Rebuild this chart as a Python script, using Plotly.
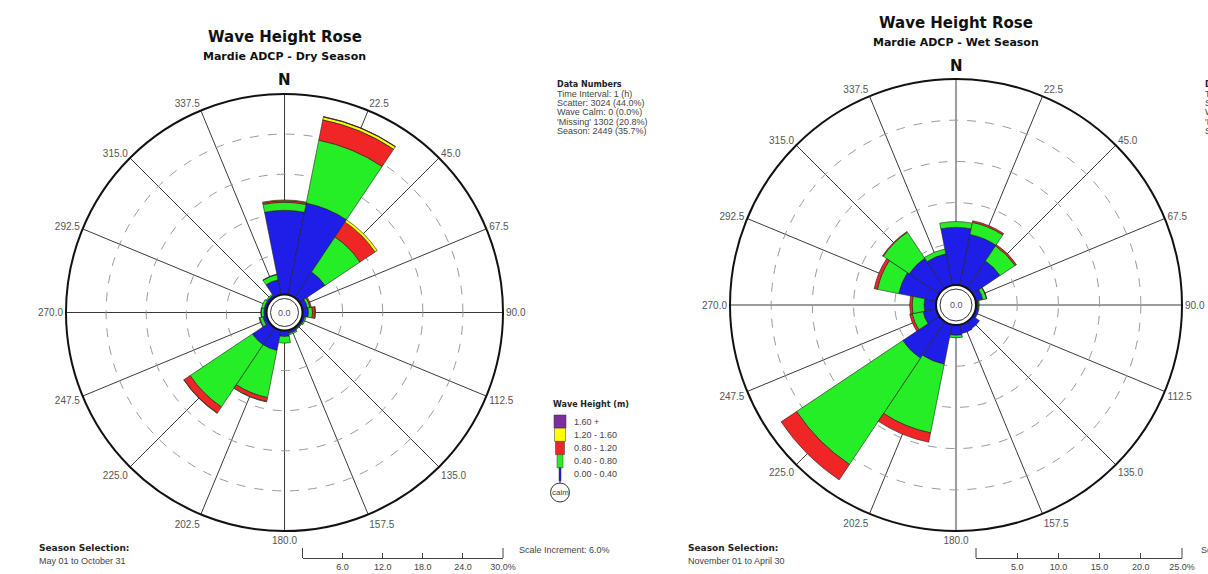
import plotly.graph_objects as go

# ---------------- data ----------------
directions = [0, 22.5, 45, 67.5, 90, 112.5, 135, 157.5, 180, 202.5, 225, 247.5, 270, 292.5, 315, 337.5]
angle_labels = ["", "22.5", "45.0", "67.5", "90.0", "112.5", "135.0", "157.5", "180.0",
                "202.5", "225.0", "247.5", "270.0", "292.5", "315.0", "337.5"]
bin_labels = ["0.00 - 0.40", "0.40 - 0.80", "0.80 - 1.20", "1.20 - 1.60", "1.60 +"]

# Dry season, frequency (%) per direction and wave-height bin
dry_000_040 = [12.6, 14.0, 4.6, 0.8, 0.9, 0.4, 0.3, 0.5, 0.9, 3.1, 3.1, 0.6, 0.4, 0.4, 0.4, 2.3]
dry_040_080 = [1.2, 9.6, 6.3, 0.4, 0.6, 0.2, 0.1, 0.2, 1.0, 7.2, 11.2, 0.5, 0.4, 0.4, 0.2, 0.8]
dry_080_120 = [0.25, 3.1, 2.7, 0.2, 0.4, 0, 0, 0, 0, 0.6, 1.1, 0.1, 0.05, 0, 0, 0.05]
dry_120_160 = [0.1, 0.45, 0.4, 0, 0.05, 0, 0, 0, 0, 0.05, 0.05, 0, 0, 0, 0, 0]
dry_160_up = [0, 0.05, 0, 0, 0, 0, 0, 0, 0, 0, 0, 0, 0, 0, 0, 0]

# Wet season
wet_000_040 = [7.0, 6.3, 4.0, 0.9, 0.3, 0.4, 1.0, 1.1, 1.25, 4.9, 5.35, 1.65, 1.45, 4.65, 4.4, 3.9]
wet_040_080 = [0.7, 1.5, 2.2, 0.45, 0.1, 0, 0, 0, 0.3, 8.5, 15.5, 1.35, 1.45, 2.65, 3.8, 0.6]
wet_080_120 = [0, 0.2, 0.2, 0.05, 0, 0, 0, 0, 0, 1.15, 2.25, 0.3, 0.3, 0.4, 0.1, 0]
wet_120_160 = [0, 0, 0, 0, 0, 0, 0, 0, 0, 0, 0, 0, 0, 0, 0, 0]
wet_160_up = [0, 0, 0, 0, 0, 0, 0, 0, 0, 0, 0, 0, 0, 0, 0, 0]

dry_ticks = [6, 12, 18, 24, 30]
dry_tick_text = ["6.0", "12.0", "18.0", "24.0", "30.0%"]
wet_ticks = [5, 10, 15, 20, 25]
wet_tick_text = ["5.0", "10.0", "15.0", "20.0", "25.0%"]

dry_info = ["Time Interval: 1 (h)", "Scatter: 3024 (44.0%)", "Wave Calm: 0 (0.0%)",
            "'Missing' 1302 (20.8%)", "Season: 2449 (35.7%)"]
wet_info = ["Time Interval: 1 (h)", "Scatter: 3024 (44.0%)", "Wave Calm: 0 (0.0%)",
            "'Missing' 1302 (20.8%)", "Season: 2449 (35.7%)"]

# ---------------- style ----------------
W, H = 1208, 574
bin_colors = ["#1e1ee8", "#26ee26", "#f02626", "#ffff00", "#7b2f9c"]
TXT = "Liberation Sans, Arial, sans-serif"
BOLD = "DejaVu Sans, Verdana, sans-serif"


def px(x):
    return x / W


def py(y):
    return 1 - y / H


def nz(vals):
    return [v if v else None for v in vals]


def note(x, y, text, size=9, family=TXT, color="#444", anchor="center"):
    return dict(x=px(x), y=py(y), xref="paper", yref="paper", text=text, showarrow=False,
                xanchor=anchor, yanchor="middle", font=dict(family=family, size=size, color=color))


fig = go.Figure()

dry_bins = [dry_000_040, dry_040_080, dry_080_120, dry_120_160, dry_160_up]
wet_bins = [wet_000_040, wet_040_080, wet_080_120, wet_120_160, wet_160_up]

for sub, bins in (("polar", dry_bins), ("polar2", wet_bins)):
    for vals, col, lab in zip(bins, bin_colors, bin_labels):
        fig.add_trace(go.Barpolar(
            r=nz(vals), theta=directions, width=[22.5] * len(directions),
            marker=dict(color=col, line=dict(color="#202020", width=0.6)),
            name=lab, subplot=sub, showlegend=False,
        ))

# geometry of the two roses (pixels)
roses = [
    dict(cx=284.5, cy=312.5, R=218.5, hole=18.0, rc=14.0, rmax=30, ticks=dry_ticks, tt=dry_tick_text,
         title_y=37, sub_y=57, n_y=80, subtitle="Mardie ADCP - Dry Season",
         info_x=555, info=dry_info, season="May 01 to October 31", season_x=37,
         scale_txt_x=517, scale_txt="Scale Increment: 6.0%"),
    dict(cx=956.0, cy=305.0, R=226.0, hole=20.0, rc=16.0, rmax=25, ticks=wet_ticks, tt=wet_tick_text,
         title_y=23, sub_y=43, n_y=66, subtitle="Mardie ADCP - Wet Season",
         info_x=1203, info=wet_info, season="November 01 to April 30", season_x=686,
         scale_txt_x=1199, scale_txt="Scale Increment: 5.0%"),
]

shapes = []
annotations = []

for i, g in enumerate(roses):
    key = "polar" if i == 0 else "polar2"
    dom_x = [px(g["cx"] - g["R"]), px(g["cx"] + g["R"])]
    dom_y = [py(g["cy"] + g["R"]), py(g["cy"] - g["R"])]
    fig.layout[key] = dict(
        domain=dict(x=dom_x, y=dom_y),
        hole=g["hole"] / g["R"],
        bgcolor="white",
        barmode="stack",
        radialaxis=dict(range=[0, g["rmax"]], tickvals=g["ticks"][:-1], showticklabels=False,
                        ticks="", showline=False, gridcolor="#9a9a9a", gridwidth=1,
                        griddash="dash"),
        angularaxis=dict(rotation=90, direction="clockwise", tickvals=directions,
                         ticktext=angle_labels, ticks="", showline=True, linecolor="#111",
                         linewidth=2, gridcolor="#3a3a3a", gridwidth=0.8,
                         tickfont=dict(family=TXT, size=10, color="#555")),
    )
    # calm circle in the centre
    rc = g["rc"]
    shapes.append(dict(type="circle", xref="paper", yref="paper",
                       x0=px(g["cx"] - rc), x1=px(g["cx"] + rc),
                       y0=py(g["cy"] + rc), y1=py(g["cy"] - rc),
                       fillcolor="white", line=dict(color="#333", width=1)))
    annotations.append(note(g["cx"], g["cy"], "0.0", 9, TXT, "#555"))
    # titles
    annotations.append(note(g["cx"], g["title_y"], "<b>Wave Height Rose</b>", 15, BOLD, "#111"))
    annotations.append(note(g["cx"], g["sub_y"], "<b>" + g["subtitle"] + "</b>", 11, BOLD, "#111"))
    annotations.append(note(g["cx"], g["n_y"], "<b>N</b>", 15, BOLD, "#111"))
    # data numbers block
    annotations.append(note(g["info_x"], 84, "<b>Data Numbers</b>", 8, BOLD, "#222", "left"))
    for k, line in enumerate(g["info"]):
        annotations.append(note(g["info_x"], 94 + 9.2 * k, line, 9, TXT, "#444", "left"))
    # season selection
    annotations.append(note(g["season_x"], 548, "<b>Season Selection:</b>", 9, BOLD, "#222", "left"))
    annotations.append(note(g["season_x"], 561, g["season"], 9, TXT, "#444", "left"))
    annotations.append(note(g["scale_txt_x"], 550, g["scale_txt"], 9, TXT, "#444", "left"))

    # scale bar as a cartesian axis sharing the radial scale
    xa = "xaxis" if i == 0 else "xaxis2"
    ya = "yaxis" if i == 0 else "yaxis2"
    x0 = g["cx"] + g["hole"]
    x1 = g["cx"] + g["R"]
    fig.layout[xa] = dict(domain=[px(x0), px(x1)], range=[0, g["rmax"]],
                          tickvals=[0] + g["ticks"], ticktext=[""] + g["tt"],
                          ticks="inside", ticklen=5, tickcolor="#444",
                          showline=True, linecolor="#444", linewidth=1,
                          showgrid=False, zeroline=False, fixedrange=True, automargin=False,
                          tickfont=dict(family=TXT, size=9, color="#444"),
                          anchor="y" if i == 0 else "y2")
    fig.layout[ya] = dict(domain=[py(558), py(548)], visible=False, range=[0, 1],
                          fixedrange=True, automargin=False, anchor="x" if i == 0 else "x2")
    fig.add_trace(go.Scatter(x=[None], y=[None], xaxis="x" if i == 0 else "x2",
                             yaxis="y" if i == 0 else "y2", showlegend=False,
                             hoverinfo="skip"))
    # tall end ticks of the scale bar
    for xe in (x0, x1):
        shapes.append(dict(type="line", xref="paper", yref="paper", x0=px(xe), x1=px(xe),
                           y0=py(558), y1=py(548), line=dict(color="#444", width=1)))

# ---------------- custom wave-height legend (left panel) ----------------
lx = 560.0
annotations.append(note(551, 404, "<b>Wave Height (m)</b>", 8, BOLD, "#222", "left"))
half_w = [6.0, 5.5, 4.5, 3.0, 1.0]   # purple, yellow, red, green, blue
rows = list(reversed(list(zip(bin_colors, bin_labels))))
top = 415.0
rh = 13.2
for k, (col, lab) in enumerate(rows):
    y0 = top + k * rh
    y1 = y0 + rh
    hw = half_w[k]
    shapes.append(dict(type="rect", xref="paper", yref="paper",
                       x0=px(lx - hw), x1=px(lx + hw), y0=py(y1), y1=py(y0),
                       fillcolor=col, line=dict(color="#333", width=0.5)))
    annotations.append(note(572, (y0 + y1) / 2, lab, 9, TXT, "#444", "left"))
blue_bottom = top + 5 * rh
shapes.append(dict(type="line", xref="paper", yref="paper", x0=px(lx), x1=px(lx),
                   y0=py(blue_bottom + 2), y1=py(blue_bottom - 1), line=dict(color="#2a2a7a", width=1)))
rcalm = 9.5
ccy = blue_bottom + 2 + rcalm
shapes.append(dict(type="circle", xref="paper", yref="paper",
                   x0=px(lx - rcalm), x1=px(lx + rcalm), y0=py(ccy + rcalm), y1=py(ccy - rcalm),
                   fillcolor="white", line=dict(color="#333", width=1)))
annotations.append(note(lx, ccy, "calm", 8, TXT, "#444"))

fig.update_layout(
    template="none",
    width=W, height=H, autosize=False,
    margin=dict(l=0, r=0, t=0, b=0, pad=0),
    paper_bgcolor="white", plot_bgcolor="white",
    showlegend=False,
    shapes=shapes, annotations=annotations,
)

fig.write_html("out.html")
